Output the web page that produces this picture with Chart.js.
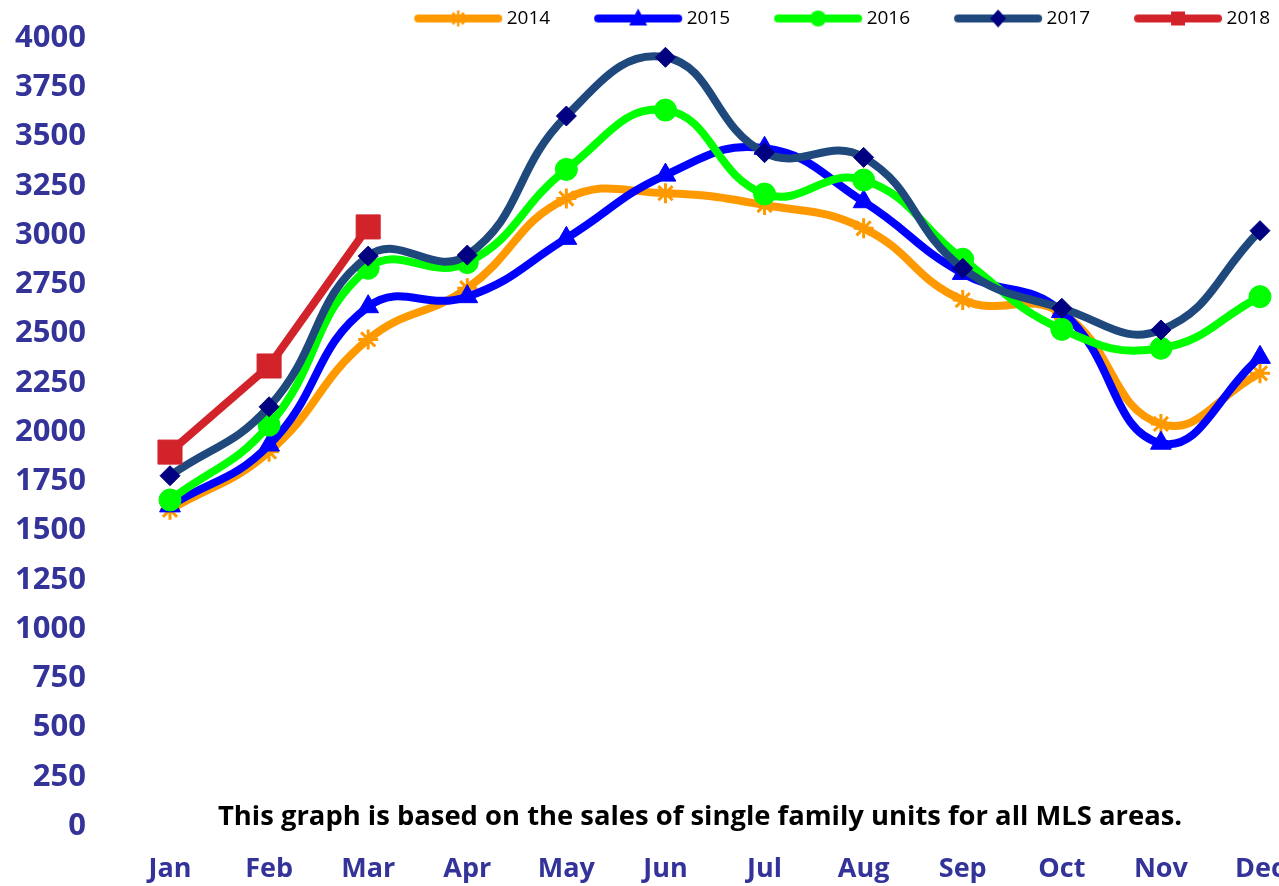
<!DOCTYPE html>
<html>
<head>
<meta charset="utf-8">
<script src="https://cdn.jsdelivr.net/npm/chart.js@4/dist/chart.umd.min.js"></script>
<style>
  body { margin: 0; background: #fff; overflow: hidden; }
  #wrap { position: relative; width: 1279px; height: 886px; }
  #note {
    position: absolute; left: 218px; top: 801px;
    font: bold 27.4px 'Open Sans', sans-serif; color: #000; line-height: 1; white-space: nowrap;
  }
</style>
</head>
<body>
<div id="wrap">
  <canvas id="myChart" width="1279" height="886"></canvas>
  <div id="note">This graph is based on the sales of single family units for all MLS areas.</div>
</div>
<script>
const months = ['Jan', 'Feb', 'Mar', 'Apr', 'May', 'Jun', 'Jul', 'Aug', 'Sep', 'Oct', 'Nov', 'Dec'];
const years = ['2014', '2015', '2016', '2017', '2018'];

const sales2014 = [1605, 1900, 2470, 2730, 3185, 3212, 3152, 3034, 2670, 2605, 2041, 2298];
const sales2015 = [1625, 1934, 2636, 2687, 2983, 3304, 3440, 3169, 2805, 2612, 1943, 2379];
const sales2016 = [1655, 2035, 2831, 2860, 3333, 3634, 3208, 3279, 2877, 2521, 2425, 2687];
const sales2017 = [1778, 2128, 2893, 2898, 3604, 3902, 3418, 3394, 2831, 2628, 2518, 3022];
const sales2018 = [1898, 2335, 3041];

const ctx = document.querySelector('#myChart').getContext('2d');
const tickColor = '#333399';

// line + marker picture for each legend entry
function legendIcon(lineColor, markColor, style) {
    const c = document.createElement('canvas');
    c.width = 140;
    c.height = 26;
    const g = c.getContext('2d');
    g.lineCap = 'round';
    g.lineWidth = 8;
    g.strokeStyle = lineColor;
    g.beginPath();
    g.moveTo(50, 13);
    g.lineTo(130, 13);
    g.stroke();
    const cx = 90, cy = 13;
    g.fillStyle = markColor;
    g.strokeStyle = markColor;
    g.beginPath();
    if (style === 'star') {
        g.lineWidth = 2.5;
        g.lineCap = 'butt';
        for (let a = 0; a < 4; a++) {
            const ang = a * Math.PI / 4;
            g.moveTo(cx - Math.cos(ang) * 8, cy - Math.sin(ang) * 8);
            g.lineTo(cx + Math.cos(ang) * 8, cy + Math.sin(ang) * 8);
        }
        g.stroke();
    } else if (style === 'triangle') {
        g.moveTo(cx, cy - 10);
        g.lineTo(cx + 9, cy + 7);
        g.lineTo(cx - 9, cy + 7);
        g.fill();
    } else if (style === 'circle') {
        g.arc(cx, cy, 8, 0, Math.PI * 2);
        g.fill();
    } else if (style === 'rectRot') {
        g.moveTo(cx, cy - 9);
        g.lineTo(cx + 8, cy);
        g.lineTo(cx, cy + 9);
        g.lineTo(cx - 8, cy);
        g.fill();
    } else {
        g.rect(cx - 7, cy - 7, 14, 14);
        g.fill();
    }
    return c;
}

const icons = [
    legendIcon('#ff9900', '#ff9900', 'star'),
    legendIcon('#0000ff', '#0000ff', 'triangle'),
    legendIcon('#00ff00', '#00ff00', 'circle'),
    legendIcon('#1f497d', '#000080', 'rectRot'),
    legendIcon('#d2232a', '#d2232a', 'rect')
];

let config = {
    type: 'line',
    data: {
        labels: months,
        datasets: [{
            label: years[0],
            data: sales2014,
            borderColor: '#ff9900',
            backgroundColor: '#ff9900',
            pointStyle: 'star',
            pointRadius: 10,
            pointBorderWidth: 3,
            tension: 0.45,
            order: 5
        }, {
            label: years[1],
            data: sales2015,
            borderColor: '#0000ff',
            backgroundColor: '#0000ff',
            pointStyle: 'triangle',
            pointRadius: 12,
            pointBorderWidth: 1,
            tension: 0.45,
            order: 4
        }, {
            label: years[2],
            data: sales2016,
            borderColor: '#00ff00',
            backgroundColor: '#00ff00',
            pointStyle: 'circle',
            pointRadius: 11,
            pointBorderWidth: 1,
            tension: 0.45,
            order: 3
        }, {
            label: years[3],
            data: sales2017,
            borderColor: '#1f497d',
            backgroundColor: '#000080',
            pointBorderColor: '#000080',
            pointStyle: 'rectRot',
            pointRadius: 10,
            pointBorderWidth: 1,
            tension: 0.45,
            order: 2
        }, {
            label: years[4],
            data: sales2018,
            borderColor: '#d2232a',
            backgroundColor: '#d2232a',
            pointStyle: 'rect',
            pointRadius: 17,
            pointBorderWidth: 1,
            tension: 0,
            order: 1
        }]
    },
    options: {
        responsive: false,
        animation: false,
        layout: { autoPadding: false, padding: 0 },
        elements: { line: { borderWidth: 8, fill: false } },
        plugins: {
            tooltip: { enabled: false },
            legend: {
                position: 'top',
                align: 'end',
                labels: {
                    usePointStyle: true,
                    pointStyleWidth: 118,
                    padding: 9,
                    color: '#000',
                    font: { family: 'Open Sans', size: 19 },
                    sort: (a, b) => a.datasetIndex - b.datasetIndex,
                    generateLabels: (chart) => {
                        const items = Chart.defaults.plugins.legend.labels.generateLabels(chart);
                        items.forEach(item => { item.pointStyle = icons[item.datasetIndex]; });
                        return items;
                    }
                }
            }
        },
        scales: {
            x: {
                offset: false,
                grid: { display: false, drawTicks: false },
                border: { display: false },
                ticks: {
                    color: tickColor,
                    padding: 27,
                    maxRotation: 0,
                    autoSkip: false,
                    font: { family: 'Open Sans', size: 27, weight: 'bold' }
                },
                afterFit: (scale) => {
                    scale.height = 60;
                    scale.paddingLeft = 0;
                    scale.paddingRight = 19;
                }
            },
            y: {
                min: 0,
                max: 4000,
                grid: { display: false, drawTicks: false },
                border: { display: false },
                ticks: {
                    stepSize: 250,
                    color: tickColor,
                    padding: 84,
                    font: { family: 'Open Sans', size: 31, weight: 'bold' },
                    callback: (value) => String(value)
                },
                afterFit: (scale) => {
                    scale.width = 170;
                    scale.paddingTop = 18;
                    scale.paddingBottom = 18;
                }
            }
        }
    }
};

window.chart = new Chart(ctx, config);
</script>
</body>
</html>
